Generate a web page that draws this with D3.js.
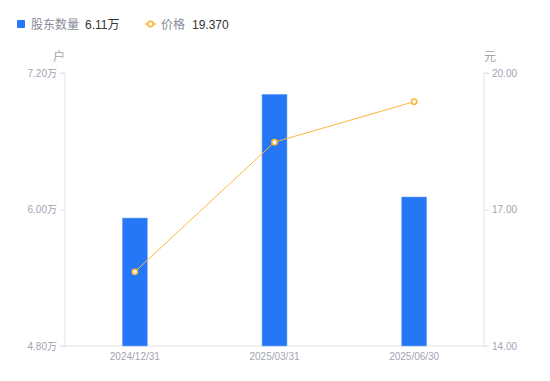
<!DOCTYPE html>
<html><head><meta charset="utf-8">
<script src="https://cdn.jsdelivr.net/npm/d3@7/dist/d3.min.js"></script>
<style>body{margin:0;background:#fff;font-family:"Liberation Sans",Arial,"Noto Sans CJK SC",sans-serif;}</style>
</head><body>
<svg id="c" width="550" height="381"></svg>
<script>
const categories = ["2024/12/31", "2025/03/31", "2025/06/30"];
const holders = [5.925, 7.013, 6.11];   // 万户
const prices = [15.63, 18.48, 19.37];   // 元
const leftTicks = [4.80, 6.00, 7.20];
const rightTicks = [14.00, 17.00, 20.00];
const legendHolders = "6.11万";
const legendPrice = "19.370";

const svg = d3.select("#c");
const fontCJK = '"Liberation Sans",Arial,"Noto Sans CJK SC",sans-serif';
const L = 65, R = 484, T = 73, B = 346;
const blue = "#2577F5", orange = "#FDB63A", axisCol = "#E3E3E8", labelCol = "#A3A3B2";

const x = d3.scaleBand().domain(categories).range([L, R]);
const yL = d3.scaleLinear().domain([4.8, 7.2]).range([B, T]);
const yR = d3.scaleLinear().domain([14, 20]).range([B, T]);

// axes
const gl = svg.append("g").attr("transform", `translate(${L},0)`)
  .call(d3.axisLeft(yL).tickValues(leftTicks).tickSize(5).tickPadding(3).tickFormat(d => d3.format(".2f")(d) + "万"));
const gr = svg.append("g").attr("transform", `translate(${R},0)`)
  .call(d3.axisRight(yR).tickValues(rightTicks).tickSize(5).tickPadding(3).tickFormat(d3.format(".2f")));
const gb = svg.append("g").attr("transform", `translate(0,${B})`)
  .call(d3.axisBottom(x).tickSize(0).tickPadding(7));
[gl, gr, gb].forEach(g => {
  g.selectAll("path.domain").attr("stroke", axisCol).attr("stroke-width", 1);
  g.selectAll(".tick line").attr("stroke", axisCol);
  g.selectAll("text").attr("fill", labelCol).attr("font-size", 10).attr("font-family", fontCJK);
});
gl.select("path.domain").attr("d", `M-5,${T}H0V${B}H-5`);
gr.select("path.domain").attr("d", `M5,${T}H0V${B}H5`);
gb.select("path.domain").attr("d", `M${L},0H${R}`);

// unit labels
svg.append("text").attr("x", 59).attr("y", 61).attr("text-anchor", "middle")
  .attr("font-size", 12).attr("fill", labelCol).attr("font-family", fontCJK).text("户");
svg.append("text").attr("x", 490).attr("y", 61).attr("text-anchor", "middle")
  .attr("font-size", 12).attr("fill", labelCol).attr("font-family", fontCJK).text("元");

// bars
const bw = 25;
svg.append("g").selectAll("rect").data(holders).join("rect")
  .attr("x", (d, i) => x(categories[i]) + x.bandwidth() / 2 - bw / 2)
  .attr("y", d => yL(d))
  .attr("width", bw)
  .attr("height", d => B - yL(d))
  .attr("fill", blue)
  .attr("stroke", "#7FAEF8").attr("stroke-width", 0.6);

// line
const line = d3.line().x((d, i) => x(categories[i]) + x.bandwidth() / 2).y(d => yR(d));
svg.append("path").datum(prices).attr("d", line)
  .attr("fill", "none").attr("stroke", orange).attr("stroke-width", 1);
svg.append("g").selectAll("circle").data(prices).join("circle")
  .attr("cx", (d, i) => x(categories[i]) + x.bandwidth() / 2)
  .attr("cy", d => yR(d))
  .attr("r", 2.6).attr("fill", "#fff").attr("stroke", orange).attr("stroke-width", 1.6);

// legend
const lg = svg.append("g").attr("font-family", fontCJK).attr("font-size", 12);
lg.append("rect").attr("x", 17).attr("y", 20).attr("width", 8).attr("height", 8).attr("rx", 1).attr("fill", blue);
lg.append("text").attr("x", 31).attr("y", 29).attr("fill", "#8A8A99").text("股东数量");
lg.append("text").attr("x", 85).attr("y", 29).attr("fill", "#333").text(legendHolders);
lg.append("line").attr("x1", 145).attr("x2", 156).attr("y1", 24).attr("y2", 24).attr("stroke", orange).attr("stroke-width", 1.5);
lg.append("circle").attr("cx", 150.5).attr("cy", 24).attr("r", 2.6).attr("fill", "#fff").attr("stroke", orange).attr("stroke-width", 1.6);
lg.append("text").attr("x", 161).attr("y", 29).attr("fill", "#8A8A99").text("价格");
lg.append("text").attr("x", 192).attr("y", 29).attr("fill", "#333").text(legendPrice);
</script>
</body></html>
